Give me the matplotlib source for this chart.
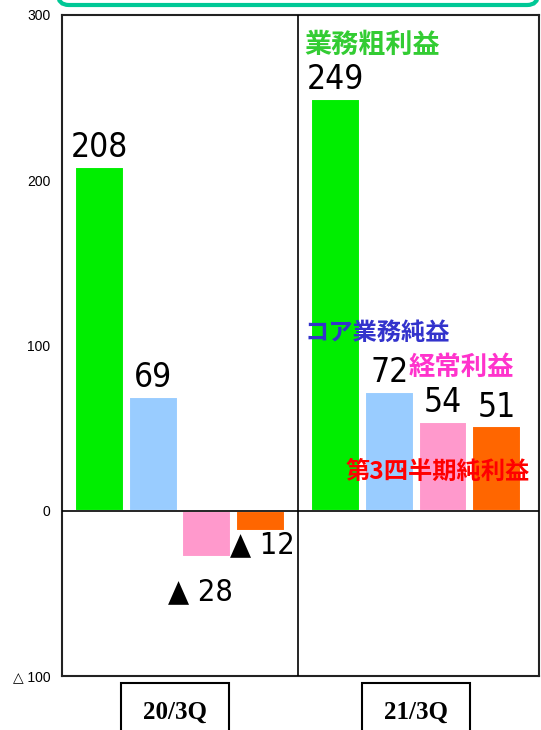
import matplotlib
matplotlib.use("Agg")
import matplotlib.pyplot as plt
from matplotlib.patches import FancyBboxPatch, Rectangle
from matplotlib import font_manager

categories = ["20/3Q", "21/3Q"]
series_names = ["業務粗利益", "コア業務純益", "経常利益", "第3四半期純利益"]
values_2003 = [208, 69, -28, -12]
values_2103 = [249, 72, 54, 51]
bar_colors = ["#00EE00", "#99CCFF", "#FF99CC", "#FF6600"]
yticks = [-100, 0, 100, 200, 300]
ytick_labels = ["△ 100", "0", "100", "200", "300"]

W, H = 541, 730
fig = plt.figure(figsize=(W / 100, H / 100), dpi=100)
ax = fig.add_axes([62 / W, 1 - 676 / H, (539 - 62) / W, (676 - 15) / H])

names = {f.name for f in font_manager.fontManager.ttflist}
if "Liberation Sans Narrow" in names:
    num_font = ["Liberation Sans Narrow", "DejaVu Sans"]
    num_stretch = "normal"
else:
    num_font = ["DejaVu Sans"]
    num_stretch = "condensed"
jp_font = ["Noto Sans CJK JP", "DejaVu Sans"]

width = 0.207
step = 0.228
data = [values_2003, values_2103]
for g, vals in enumerate(data):
    for i, v in enumerate(vals):
        x = g + 0.5 + (i - 1.5) * step
        ax.bar(x, v, width=width, color=bar_colors[i], edgecolor="white",
               linewidth=1.5, zorder=2)
        if v >= 0:
            ax.annotate(f"{v}", (x, v), xytext=(0, 2), textcoords="offset points",
                        ha="center", va="bottom", fontsize=24, fontstretch=num_stretch,
                        family=num_font, color="black")

ax.annotate(f"▲ {abs(values_2003[2])}", (0.5 + 0.5 * step, values_2003[2]),
            xytext=(-5, -25), textcoords="offset points", ha="center", va="center",
            fontsize=22, family=num_font, fontstretch=num_stretch)
ax.annotate(f"▲ {abs(values_2003[3])}", (0.5 + 1.5 * step, values_2003[3]),
            xytext=(1, -10), textcoords="offset points", ha="center", va="center",
            fontsize=22, family=num_font, fontstretch=num_stretch)

ax.axhline(0, color="black", lw=1.2, zorder=3)
ax.axvline(1, color="black", lw=1.2, zorder=3)

ax.set_xlim(0, 2.021)
ax.set_ylim(-100, 300)
ax.set_yticks(yticks)
ax.set_yticklabels(ytick_labels, fontsize=10, family=["Liberation Sans", "DejaVu Sans"])
ax.set_xticks([])
ax.tick_params(axis="y", length=0, pad=8.5)
for s in ax.spines.values():
    s.set_linewidth(1.5)
    s.set_color("#222222")

def fig_text(px, py, s, color, size):
    fig.text(px / W, 1 - py / H, s, color=color, fontsize=size, family=jp_font,
             fontweight="bold", ha="left", va="center")

fig_text(304, 45, series_names[0], "#33CC33", 19.5)
fig_text(304, 333, series_names[1], "#3333CC", 17.5)
fig_text(409, 367, series_names[2], "#FF33CC", 19)
fig_text(346, 472, series_names[3], "#FF0000", 17.5)

for cx, lab in zip([175, 416], categories):
    fig.patches.append(Rectangle(((cx - 54) / W, 1 - 760 / H), 108 / W, 77 / H,
                                 transform=fig.transFigure, facecolor="white",
                                 edgecolor="black", lw=1.5))
    fig.text(cx / W, 1 - 712 / H, lab, ha="center", va="center", fontsize=18,
             family=["Liberation Serif", "DejaVu Serif"], fontweight="bold")

fig.patches.append(FancyBboxPatch((58 / W, 1 - 5 / H), (538 - 58) / W, 40 / H,
                                  boxstyle="round,pad=0,rounding_size=0.02",
                                  transform=fig.transFigure, facecolor="white",
                                  edgecolor="#00C896", lw=3, mutation_aspect=W / H))

fig.savefig("out.png", dpi=100)
